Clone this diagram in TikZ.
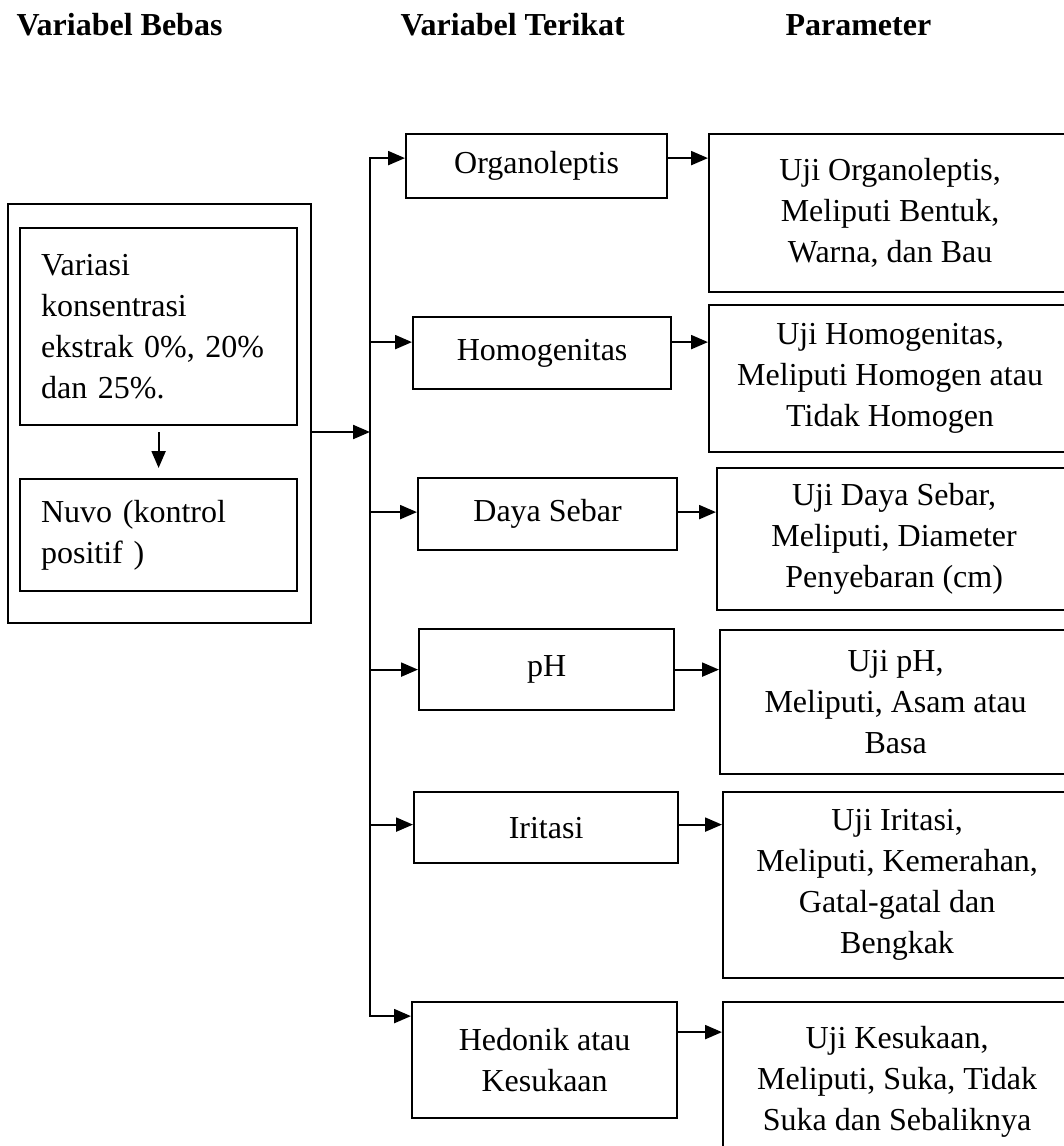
\documentclass[tikz,border=0pt]{standalone}
\usepackage{fontspec}
\setmainfont{Liberation Serif}
\usetikzlibrary{arrows.meta,calc,positioning}

\begin{document}
\begin{tikzpicture}[x=1pt, y=-1pt, font=\fontsize{32}{41}\selectfont,
    var/.style = {draw, rectangle, line width=2.2pt, inner sep=0pt, anchor=north west, align=center},
    param/.style = {var},
    arr/.style = {line width=2.2pt, -{Triangle[length=17pt,width=14pt]}},
    head/.style = {anchor=base west, font=\fontsize{32}{41}\selectfont\bfseries}]
  \useasboundingbox (0,0) rectangle (1063,1146);
  % judul kolom
  \node[head] (hbebas) at (13,35) {Variabel Bebas};
  \node[head] (hterikat) at (397,35) {Variabel Terikat};
  \node[head] (hparam) at (782,35) {Parameter};
  % variabel bebas
  \node[var, minimum width=303pt, minimum height=419pt] (bebas) at (7,203) {};
  \node[var, align=left, text width=235pt, inner xsep=21pt, minimum height=197pt] (ekstrak) at (19,227) {Variasi\\ konsentrasi\\ ekstrak 0\%, 20\%\\ dan 25\%.};
  \node[var, align=left, text width=235pt, inner xsep=21pt, minimum height=112pt] (nuvo) at (19,478) {Nuvo (kontrol\\ positif )};
  \draw[arr, shorten <=6pt, shorten >=10pt] (ekstrak) -- (nuvo);
  % variabel terikat
  \node[var, minimum width=261pt, minimum height=64pt] (organo) at (405,133) {Organoleptis};
  \node[var, minimum width=258pt, minimum height=72pt] (homo) at (412,316) {Homogenitas};
  \node[var, minimum width=259pt, minimum height=72pt] (daya) at (417,477) {Daya Sebar};
  \node[var, minimum width=255pt, minimum height=81pt] (ph) at (418,628) {pH};
  \node[var, minimum width=264pt, minimum height=71pt] (iritasi) at (413,791) {Iritasi};
  \node[var, minimum width=265pt, minimum height=116pt] (hedonik) at (411,1001) {Hedonik atau\\ Kesukaan};
  % parameter
  \node[param, minimum width=362pt, minimum height=158pt] (uorgano) at (708,133) {Uji Organoleptis,\\ Meliputi Bentuk,\\ Warna, dan Bau};
  \node[param, minimum width=362pt, minimum height=147pt] (uhomo) at (708,304) {Uji Homogenitas,\\ Meliputi Homogen atau\\ Tidak Homogen};
  \node[param, minimum width=354pt, minimum height=142pt] (udaya) at (716,467) {Uji Daya Sebar,\\ Meliputi, Diameter\\ Penyebaran (cm)};
  \node[param, minimum width=351pt, minimum height=144pt] (uph) at (719,629) {Uji pH,\\ Meliputi, Asam atau\\ Basa};
  \node[param, minimum width=348pt, minimum height=186pt] (uiritasi) at (722,791) {Uji Iritasi,\\ Meliputi, Kemerahan,\\ Gatal-gatal dan\\ Bengkak};
  \node[param, minimum width=348pt, minimum height=160pt] (uhedonik) at (722,1001) {Uji Kesukaan,\\ Meliputi, Suka, Tidak\\ Suka dan Sebaliknya};
  % penghubung
  \coordinate (hub) at (370,432);
  \draw[arr] (bebas.east |- hub) -- (hub);
  \draw[line width=2.2pt, line cap=rect] ([yshift=8pt]organo.west -| hub) -- ([yshift=44pt]hedonik.west -| hub);
  \foreach \n/\p/\s/\t in {organo/uorgano/8/8, homo/uhomo/11/11, daya/udaya/2/2, ph/uph/0/0, iritasi/uiritasi/3/3, hedonik/uhedonik/44/28}{
    \draw[arr] ([yshift=\s pt]\n.west -| hub) -- ([yshift=\s pt]\n.west);
    \draw[arr] ([yshift=\t pt]\n.east) -- ([yshift=\t pt]\n.east -| \p.west);
  }
\end{tikzpicture}
\end{document}
